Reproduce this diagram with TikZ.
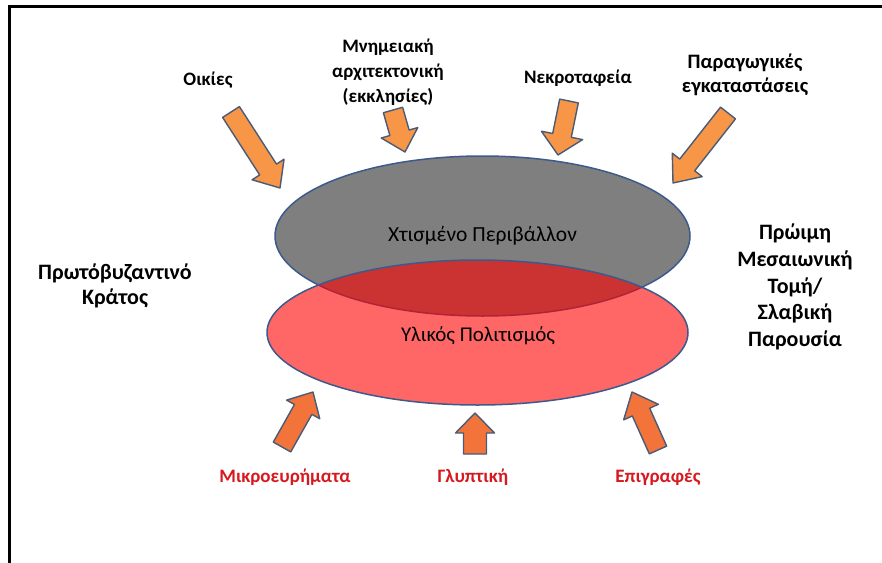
\documentclass[tikz,border=0pt]{standalone}
\usepackage{fontspec}
\setmainfont{Carlito}
\usetikzlibrary{calc,shapes.geometric}
\definecolor{orangeT}{HTML}{F79646}
\definecolor{orangeB}{HTML}{F2743A}
\definecolor{arrowline}{HTML}{4A5B78}
\definecolor{ellline}{HTML}{3C5A8C}
\definecolor{greyfill}{HTML}{7F7F7F}
\definecolor{labred}{HTML}{D7191F}
\newcommand\blockarrow[6]{% style, tail, tip, half shaft, half head, head length
  \path ($(#3)!#6!(#2)$) coordinate (bb);
  \draw[#1] ($(#2)!#4!90:(#3)$) -- ($(bb)!#4!90:(#3)$) -- ($(bb)!#5!90:(#3)$) -- (#3)
    -- ($(bb)!#5!-90:(#3)$) -- ($(bb)!#4!-90:(#3)$) -- ($(#2)!#4!-90:(#3)$) -- cycle;
}
\tikzset{
  toparrow/.style={fill=orangeT, draw=arrowline, line width=1.4pt, line join=round},
  botarrow/.style={fill=orangeB, draw=arrowline, line width=1.4pt, line join=round},
  lab/.style={font=\bfseries\fontsize{19}{25}\selectfont, align=center, inner sep=0pt},
  sidelab/.style={lab, font=\bfseries\fontsize{22}{26.8}\selectfont},
  redlab/.style={lab, text=labred},
  ell/.style={ellipse, draw=ellline, line width=1.5pt, inner sep=0pt, outer sep=0pt,
    font=\fontsize{21.5}{24}\selectfont},
}
\begin{document}
\begin{tikzpicture}[x=1pt,y=-1pt]
\useasboundingbox (0,0) rectangle (882,562);
\fill[white] (0,0) rectangle (882,562);
% frame
\coordinate (fc) at (9,6.5);
\coordinate (fr) at (884,6.5);
\coordinate (fb) at (9,564);
\draw[line width=3pt] (fr) -- (fc) -- (fb);

% ellipses
\node[ell, fill=greyfill, minimum width=415pt, minimum height=160pt] (built) at (482.5,236) {Χτισμένο Περιβάλλον};
\node[ell, fill=red, fill opacity=0.6, text opacity=1, minimum width=421pt, minimum height=145pt] (mat) at (477.5,332.5) {};
\node[font=\fontsize{21}{24}\selectfont] (matt) at (478,336) {Υλικός Πολιτισμός};

% labels
\node[lab] (oik) at (208,80) {Οικίες};
\node[lab] (mnim) at (388,72) {Μνημειακή\\αρχιτεκτονική\\(εκκλησίες)};
\node[lab] (nekr) at (578,78) {Νεκροταφεία};
\node[lab, font=\bfseries\fontsize{20.5}{24}\selectfont] (parag) at (745,75) {Παραγωγικές\\εγκαταστάσεις};
\node[sidelab, font=\bfseries\fontsize{22}{25}\selectfont] (proto) at (115,286) {Πρωτόβυζαντινό\\Κράτος};
\node[sidelab] (prwimi) at (795,287) {Πρώιμη\\Μεσαιωνική\\Τομή/\\Σλαβική\\Παρουσία};
\node[redlab] (mikro) at (285,477) {Μικροευρήματα};
\node[redlab] (glypt) at (473,477) {Γλυπτική};
\node[redlab] (epigr) at (658,477) {Επιγραφές};

% arrow coordinates
\coordinate (t1) at (231,112); \coordinate (h1) at (280,188);
\coordinate (t2) at (393,110); \coordinate (h2) at (405,152);
\coordinate (t3) at (569,101); \coordinate (h3) at (558,155);
\coordinate (t4) at (728,113); \coordinate (h4) at (673,183);
\coordinate (t5) at (282,447); \coordinate (h5) at (313,392);
\coordinate (t6) at (475,454); \coordinate (h6) at (475,413);
\coordinate (t7) at (658,450); \coordinate (h7) at (632,392);

\blockarrow{toparrow}{t1}{h1}{10pt}{19pt}{22pt}
\blockarrow{toparrow}{t2}{h2}{10pt}{19pt}{20pt}
\blockarrow{toparrow}{t3}{h3}{9.5pt}{21pt}{20pt}
\blockarrow{toparrow}{t4}{h4}{9.5pt}{19pt}{23pt}
\blockarrow{botarrow}{t5}{h5}{10pt}{19pt}{20pt}
\blockarrow{botarrow}{t6}{h6}{11.5pt}{19.5pt}{20pt}
\blockarrow{botarrow}{t7}{h7}{9.5pt}{19pt}{22pt}
\end{tikzpicture}
\end{document}
